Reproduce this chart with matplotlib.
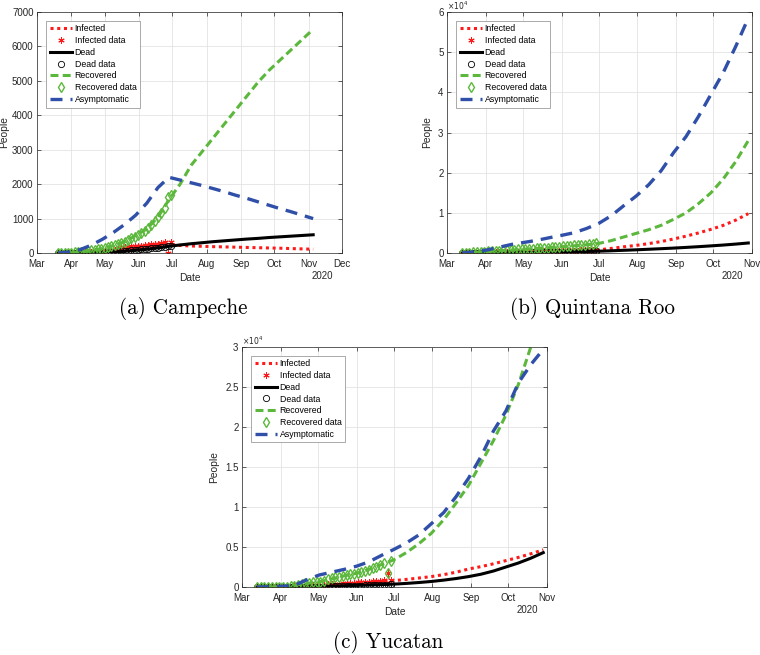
import pandas as pd
import matplotlib
matplotlib.use('Agg')
import matplotlib.pyplot as plt
import matplotlib.dates as mdates
from matplotlib.ticker import FuncFormatter, MultipleLocator

plt.rcParams['font.family'] = ['Liberation Sans', 'DejaVu Sans']

# model curves: one value every 10 days from the start date
# data points: one value every 3 days from the start date

# (a) Campeche
camp_model_start = '2020-03-20'
camp_data_start = '2020-03-20'
camp_infected = [0, 5, 15, 30, 50, 80, 120, 160, 200, 240, 260, 220, 205, 195, 185, 178, 170, 162, 155, 147, 140, 130, 120, 110]
camp_dead = [0, 0, 0, 2, 10, 25, 50, 80, 110, 150, 195, 235, 270, 300, 330, 355, 380, 405, 425, 450, 470, 490, 510, 530]
camp_recovered = [0, 5, 35, 75, 130, 220, 330, 510, 700, 1040, 1550, 2000, 2550, 2950, 3350, 3750, 4150, 4550, 4950, 5300, 5600, 5900, 6200, 6500]
camp_asympt = [0, 30, 100, 230, 400, 600, 830, 1100, 1450, 1900, 2200, 2120, 2040, 1960, 1870, 1780, 1680, 1590, 1490, 1390, 1290, 1200, 1100, 1000]
camp_inf_data = [0, 2, 5, 8, 12, 15, 20, 25, 30, 35, 40, 45, 50, 55, 60, 70, 80, 100, 130, 150, 170, 180, 190, 200, 190, 200, 220, 240, 250, 260, 270, 290, 310, 10, 320]
camp_dead_data = [0, 0, 0, 0, 0, 1, 2, 3, 5, 7, 9, 12, 15, 18, 22, 27, 32, 38, 45, 52, 60, 68, 76, 85, 95, 105, 115, 125, 135, 145, 155, 165, 175, 190, 200]
camp_rec_data = [0, 0, 2, 5, 10, 18, 28, 40, 55, 70, 85, 100, 115, 130, 150, 180, 210, 240, 270, 300, 330, 380, 430, 480, 530, 580, 650, 730, 820, 920, 1040, 1170, 1320, 1620, 1700]

# (b) Quintana Roo
qroo_model_start = '2020-03-13'
qroo_data_start = '2020-03-13'
qroo_infected = [0, 20, 50, 100, 160, 230, 300, 380, 450, 540, 650, 800, 1150, 1550, 1900, 2350, 2850, 3500, 4200, 5000, 5900, 6900, 8200, 9800]
qroo_dead = [0, 0, 10, 30, 60, 100, 150, 200, 260, 320, 390, 460, 560, 680, 800, 940, 1080, 1230, 1400, 1580, 1780, 1990, 2230, 2500]
qroo_recovered = [0, 150, 350, 550, 750, 950, 1150, 1350, 1580, 1800, 2050, 2400, 3100, 4000, 4900, 5800, 6900, 8400, 10000, 12300, 15000, 18500, 22800, 28000]
qroo_asympt = [0, 300, 750, 1450, 2150, 2650, 3150, 3800, 4400, 5050, 6100, 7400, 9300, 11800, 14200, 17000, 20500, 25000, 29000, 34000, 39500, 45000, 51500, 58500]
qroo_inf_data = [0, 5, 15, 30, 45, 60, 80, 100, 120, 140, 160, 180, 200, 220, 240, 260, 280, 300, 320, 340, 360, 380, 400, 420, 440, 460, 480, 500, 530, 560, 590, 620, 650, 680, 710, 740, 770]
qroo_dead_data = [0, 0, 0, 2, 5, 10, 15, 20, 30, 40, 50, 60, 70, 80, 95, 110, 125, 140, 155, 170, 185, 200, 215, 230, 245, 260, 275, 290, 305, 320, 340, 360, 380, 400, 420, 440, 460]
qroo_rec_data = [0, 50, 110, 170, 230, 290, 350, 410, 470, 530, 590, 650, 710, 760, 820, 880, 940, 1000, 1060, 1120, 1180, 1240, 1300, 1360, 1420, 1480, 1560, 1640, 1720, 1800, 1880, 1960, 2040, 2120, 2200, 2300, 2400]

# (c) Yucatan
yuc_model_start = '2020-03-13'
yuc_data_start = '2020-03-13'
yuc_infected = [0, 10, 30, 60, 100, 150, 220, 300, 400, 520, 650, 800, 950, 1120, 1300, 1550, 1850, 2250, 2550, 2900, 3300, 3700, 4150, 4650]
yuc_dead = [0, 0, 0, 10, 30, 60, 100, 150, 200, 250, 300, 360, 450, 560, 690, 860, 1060, 1300, 1600, 2000, 2500, 3000, 3600, 4300]
yuc_recovered = [0, 0, 30, 200, 450, 650, 1000, 1400, 1720, 2200, 2800, 3400, 4300, 5400, 6700, 8400, 10500, 12700, 15500, 18300, 21500, 25300, 30000, 35500]
yuc_asympt = [0, 30, 80, 200, 900, 1500, 1850, 2200, 2600, 3150, 3950, 4700, 5500, 6500, 7900, 9300, 11300, 13600, 16300, 19500, 22000, 25500, 27800, 29700]
yuc_inf_data = [0, 0, 2, 5, 10, 20, 30, 40, 50, 60, 80, 100, 120, 150, 180, 210, 240, 270, 300, 330, 360, 390, 420, 450, 480, 510, 540, 570, 600, 640, 680, 720, 760, 800, 850, 1720, 900]
yuc_dead_data = [0, 0, 0, 0, 0, 1, 2, 4, 6, 9, 12, 16, 20, 25, 30, 36, 42, 50, 58, 66, 75, 85, 95, 105, 115, 130, 145, 160, 175, 190, 205, 220, 240, 260, 280, 300, 320]
yuc_rec_data = [0, 0, 0, 0, 0, 5, 10, 20, 40, 80, 150, 250, 380, 450, 520, 580, 630, 680, 800, 950, 1100, 1200, 1300, 1400, 1500, 1580, 1650, 1720, 1850, 2000, 2150, 2350, 2550, 2750, 2950, 1750, 3300]

RED = '#ff1a1a'
GREEN = '#5cb83c'
BLUE = '#2f4fa8'
TXT = '#262626'


def draw_panel(ax, model_start, data_start, infected, dead, recovered, asympt,
               inf_data, dead_data, rec_data, xend, ymax, ystep, sci, ylab_x):
    mdates_ = pd.date_range(model_start, periods=len(infected), freq='10D')
    ddates = pd.date_range(data_start, periods=len(inf_data), freq='3D')

    ax.plot(mdates_, infected, color=RED, lw=2.2, ls=(0, (1, 1.2)), label='Infected')
    ax.plot(ddates, inf_data, ls='none', marker=(6, 2, 0), ms=4.5, color=RED, mew=0.7,
            label='Infected data')
    ax.plot(mdates_, dead, color='black', lw=2.2, label='Dead')
    ax.plot(ddates, dead_data, ls='none', marker='o', ms=4.5, mfc='none', mec='black', mew=0.6,
            label='Dead data')
    ax.plot(mdates_, recovered, color=GREEN, lw=2.2, ls=(0, (2.6, 1.4)), label='Recovered')
    ax.plot(ddates, rec_data, ls='none', marker='d', ms=5, mfc='none', mec=GREEN, mew=1.0,
            label='Recovered data')
    ax.plot(mdates_, asympt, color=BLUE, lw=2.4, ls=(0, (3.6, 2.4)), label='Asymptomatic')

    ax.set_xlim(pd.Timestamp('2020-03-01'), pd.Timestamp(xend))
    ax.set_ylim(0, ymax)
    ax.yaxis.set_major_locator(MultipleLocator(ystep))
    ax.xaxis.set_major_locator(mdates.MonthLocator())
    ax.xaxis.set_major_formatter(mdates.DateFormatter('%b'))
    if sci:
        ax.yaxis.set_major_formatter(FuncFormatter(lambda v, p: '%g' % (v / 1e4)))
        ax.text(0.0, 1.0, r'$\times 10^4$', transform=ax.transAxes, fontsize=5.5,
                color=TXT, ha='left', va='bottom')

    ax.grid(True, color='#e3e3e3', lw=0.6)
    ax.set_axisbelow(True)
    ax.tick_params(direction='in', labelsize=7, colors=TXT, length=3, width=0.5,
                   top=True, right=True)
    ax.tick_params(axis='x', pad=4)
    ax.tick_params(axis='y', pad=2.5)
    for s in ax.spines.values():
        s.set_color(TXT)
        s.set_linewidth(0.5)

    ax.set_xlabel('Date', fontsize=7.4, color=TXT, labelpad=3.5)
    ax.set_ylabel('People', fontsize=7.4, color=TXT)
    ax.yaxis.set_label_coords(ylab_x, 0.5)
    ax.text(0.97, -0.094, '2020', transform=ax.transAxes, fontsize=7, color=TXT,
            ha='right', va='center')

    leg = ax.legend(loc='upper left', bbox_to_anchor=(0.03, 0.964), fontsize=6.3,
                    frameon=True, fancybox=False, framealpha=1, edgecolor='#888888',
                    handlelength=2.5, handletextpad=0.35, labelspacing=0.32,
                    borderpad=0.4, borderaxespad=0)
    leg.get_frame().set_linewidth(0.5)


fig = plt.figure(figsize=(7.6, 6.55), dpi=100)
ax_a = fig.add_axes([0.0487, 0.6137, 0.4013, 0.3679])
ax_b = fig.add_axes([0.5882, 0.6137, 0.4013, 0.3679])
ax_c = fig.add_axes([0.3184, 0.1038, 0.4013, 0.3664])

draw_panel(ax_a, camp_model_start, camp_data_start, camp_infected, camp_dead,
           camp_recovered, camp_asympt, camp_inf_data, camp_dead_data, camp_rec_data,
           '2020-12-01', 7000, 1000, False, -0.092)
draw_panel(ax_b, qroo_model_start, qroo_data_start, qroo_infected, qroo_dead,
           qroo_recovered, qroo_asympt, qroo_inf_data, qroo_dead_data, qroo_rec_data,
           '2020-11-01', 60000, 10000, True, -0.049)
draw_panel(ax_c, yuc_model_start, yuc_data_start, yuc_infected, yuc_dead,
           yuc_recovered, yuc_asympt, yuc_inf_data, yuc_dead_data, yuc_rec_data,
           '2020-11-01', 30000, 5000, True, -0.075)

cap = dict(fontfamily='cmr10', fontsize=15.2, ha='center', va='center', color='black')
fig.text(183 / 760, 1 - 308 / 655, '(a) Campeche', **cap)
fig.text(593 / 760, 1 - 308 / 655, '(b) Quintana Roo', **cap)
fig.text(388 / 760, 1 - 643 / 655, '(c) Yucatan', **cap)

fig.savefig('out.png', dpi=100)
